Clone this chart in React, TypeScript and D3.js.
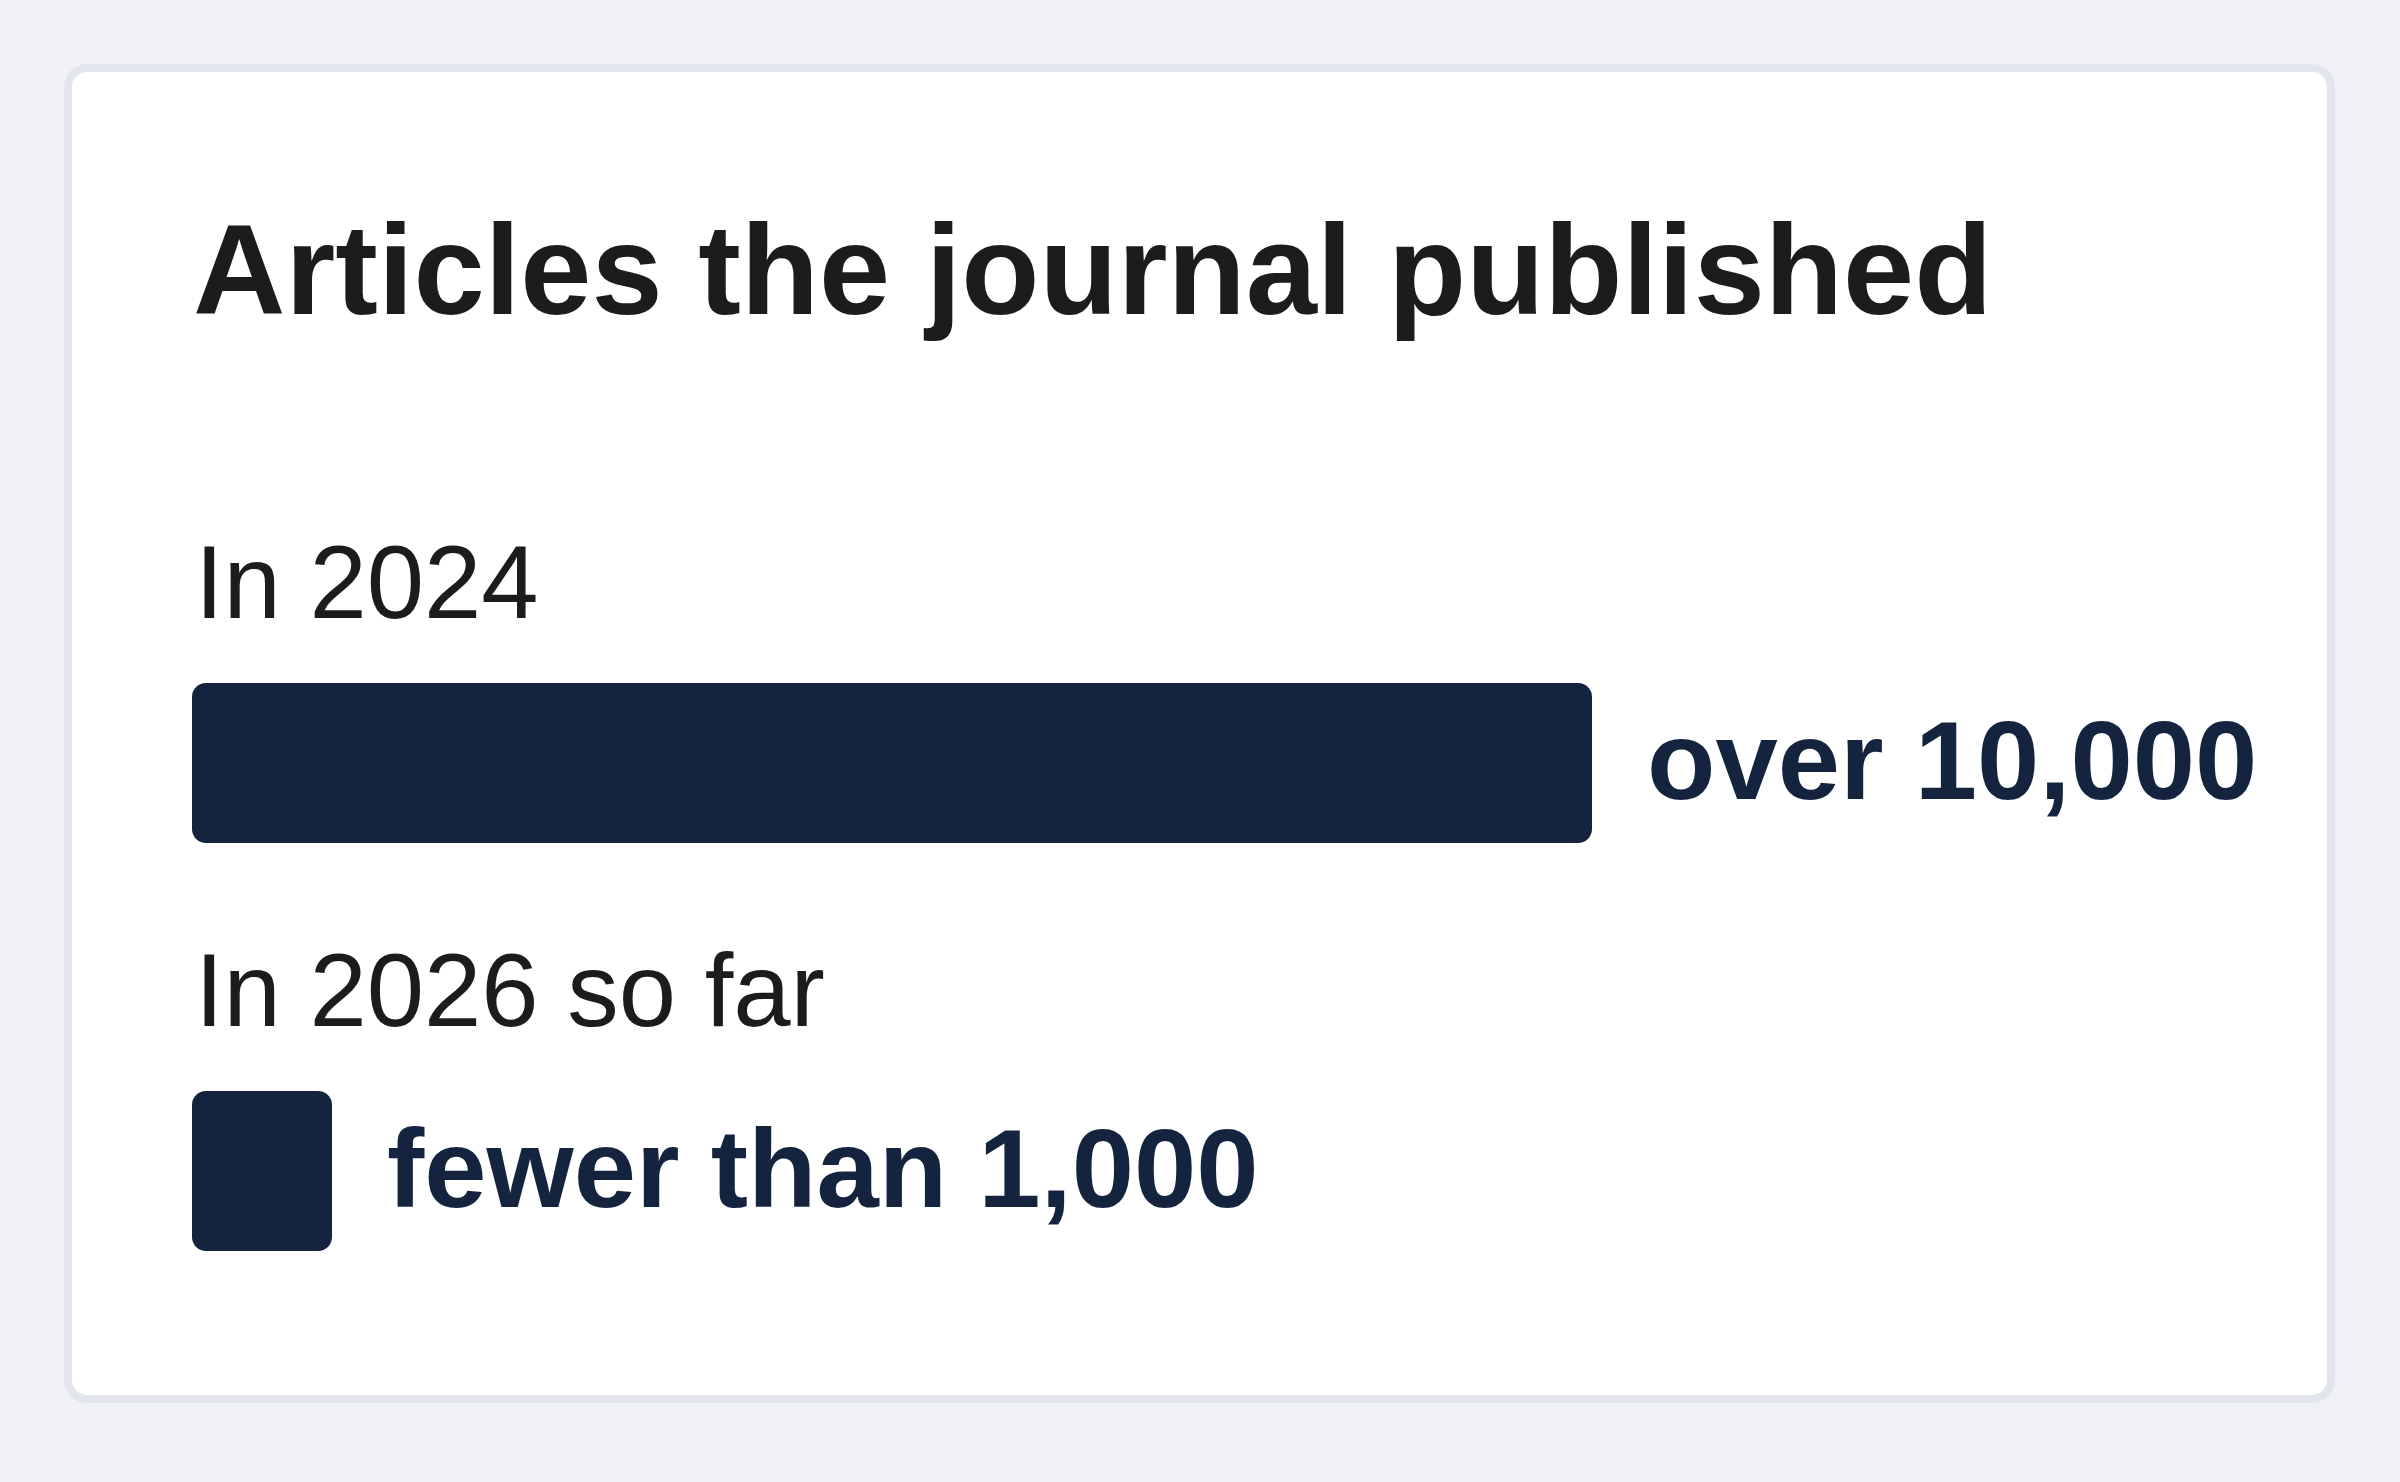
import * as d3 from "d3";
import { useEffect, useRef } from "react";

const title = "Articles the journal published";
const rowLabels = ["In 2024", "In 2026 so far"];
const values = [10000, 1000];
const valueLabels = ["over 10,000", "fewer than 1,000"];

const width = 2400;
const height = 1482;
const navy = "#14243f";
const ink = "#1c1c1c";

function drawChart(svgEl: SVGSVGElement) {
  const svg = d3.select(svgEl);
  svg.selectAll("*").remove();

  // page background + card
  svg.append("rect").attr("width", width).attr("height", height).attr("fill", "#f1f2f6");
  svg
    .append("rect")
    .attr("x", 68)
    .attr("y", 68)
    .attr("width", 2263)
    .attr("height", 1331)
    .attr("rx", 19)
    .attr("fill", "#ffffff")
    .attr("stroke", "#e2e5ed")
    .attr("stroke-width", 8);

  svg
    .append("text")
    .attr("x", 193)
    .attr("y", 314)
    .attr("fill", ink)
    .style("font-family", "'Liberation Sans', Arial, sans-serif")
    .style("font-weight", "bold")
    .style("font-size", "128px")
    .text(title);

  const x = d3.scaleLinear().domain([0, 10000]).range([0, 1400]);

  // one row per period
  const y = d3
    .scaleBand()
    .domain(rowLabels)
    .range([375, 1191])
    .paddingInner(0);

  const rows = svg
    .append("g")
    .selectAll("g")
    .data(rowLabels.map((label, i) => ({ label, value: values[i], text: valueLabels[i] })))
    .join("g")
    .attr("transform", (d) => `translate(192,${y(d.label)})`);

  rows
    .append("text")
    .attr("x", 3)
    .attr("y", 243)
    .attr("fill", ink)
    .style("font-family", "'Liberation Sans', Arial, sans-serif")
    .style("font-size", "103px")
    .text((d) => d.label);

  rows
    .append("rect")
    .attr("x", 0)
    .attr("y", 308)
    .attr("width", (d) => x(d.value))
    .attr("height", 160)
    .attr("rx", 14)
    .attr("fill", navy);

  rows
    .append("text")
    .attr("x", (d) => x(d.value) + 55)
    .attr("y", 424)
    .attr("fill", navy)
    .style("font-family", "'Liberation Sans', Arial, sans-serif")
    .style("font-weight", "bold")
    .style("font-size", "112px")
    .text((d) => d.text);
}

export default function App() {
  const ref = useRef<SVGSVGElement>(null);

  useEffect(() => {
    if (ref.current) drawChart(ref.current);
  }, []);

  return (
    <svg
      ref={ref}
      width={width}
      height={height}
      style={{ position: "absolute", left: 0, top: 0, display: "block" }}
    />
  );
}
